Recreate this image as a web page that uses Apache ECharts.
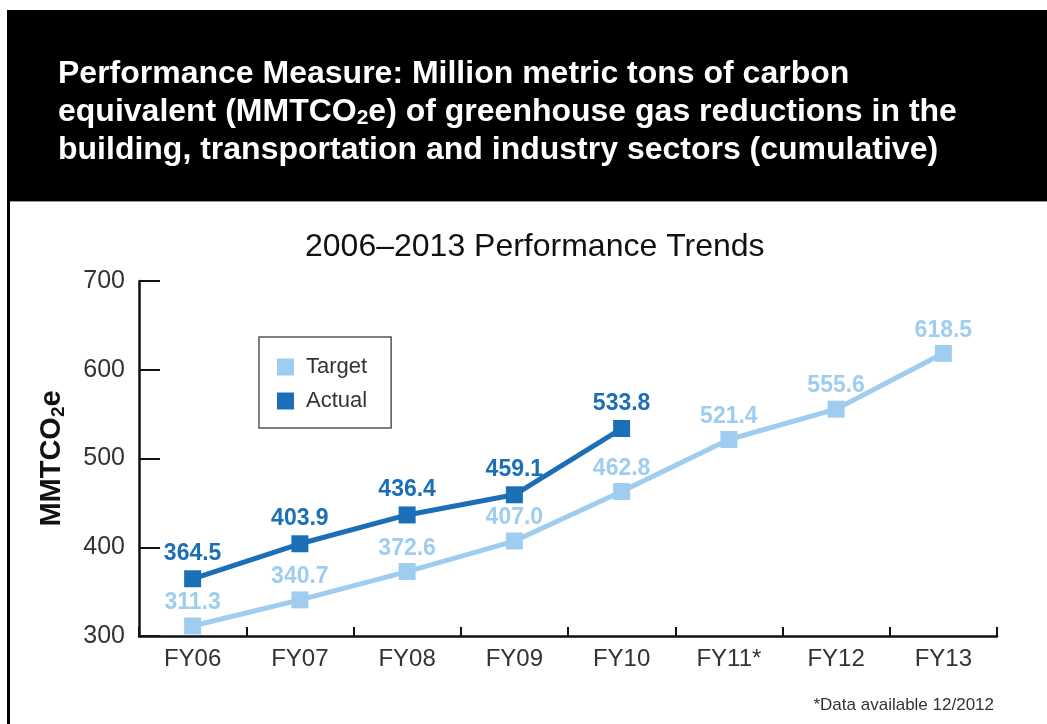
<!DOCTYPE html>
<html>
<head>
<meta charset="utf-8">
<script src="https://cdn.jsdelivr.net/npm/echarts@6/dist/echarts.min.js"></script>
<style>
  html, body { margin: 0; padding: 0; background: #fff; }
  #chart { width: 1047px; height: 724px; }
</style>
</head>
<body>
<div id="chart"></div>
<script>
// data
var categories = ['FY06', 'FY07', 'FY08', 'FY09', 'FY10', 'FY11*', 'FY12', 'FY13'];
var targetValues = [311.3, 340.7, 372.6, 407.0, 462.8, 521.4, 555.6, 618.5];
var actualValues = [364.5, 403.9, 436.4, 459.1, 533.8, null, null, null];
var yTicks = [300, 400, 500, 600, 700];

var targetColor = '#9fcdef';
var actualColor = '#1a6fb6';
var font = '"Liberation Sans", Arial, Helvetica, sans-serif';

var chart = echarts.init(document.getElementById('chart'));

var option = {
  backgroundColor: '#ffffff',
  animation: false,
  textStyle: { fontFamily: font },
  graphic: [
    // black header band
    { type: 'rect', shape: { x: 7, y: 10, width: 1040, height: 191 }, style: { fill: '#000' }, z: 0 },
    { type: 'line', shape: { x1: 7, y1: 201.5, x2: 1047, y2: 201.5 }, style: { stroke: '#999', lineWidth: 1 }, z: 0 },
    // left frame line
    { type: 'rect', shape: { x: 7, y: 200, width: 3, height: 524 }, style: { fill: '#000' }, z: 0 }
  ],
  title: [
    {
      text: 'Performance Measure: Million metric tons of carbon\nequivalent (MMTCO{s|2}e) of greenhouse gas reductions in the\nbuilding, transportation and industry sectors (cumulative)',
      left: 53,
      top: 50,
      textStyle: {
        color: '#fff',
        fontFamily: font,
        fontWeight: 'bold',
        fontSize: 32,
        lineHeight: 38,
        rich: {
          s: { color: '#fff', fontFamily: font, fontWeight: 'bold', fontSize: 21, lineHeight: 38, padding: [13, 0, 0, 0] }
        }
      }
    },
    {
      text: '2006–2013 Performance Trends',
      left: 300,
      top: 226,
      textStyle: { color: '#111', fontFamily: font, fontWeight: 'normal', fontSize: 32 }
    },
    {
      text: '*Data available 12/2012',
      right: 48,
      top: 692,
      textStyle: { color: '#333', fontFamily: font, fontWeight: 'normal', fontSize: 17 }
    }
  ],
  legend: {
    orient: 'vertical',
    left: 259,
    top: 337,
    padding: [19, 24, 16, 18],
    itemGap: 12,
    itemWidth: 17,
    itemHeight: 17,
    icon: 'rect',
    borderColor: '#555',
    borderWidth: 1.5,
    data: ['Target', 'Actual'],
    textStyle: { color: '#333', fontFamily: font, fontSize: 22, padding: [0, 0, 0, 7] }
  },
  grid: { left: 139, right: 50, top: 281, bottom: 88 },
  xAxis: {
    type: 'category',
    data: categories,
    boundaryGap: true,
    axisLine: { lineStyle: { color: '#111', width: 2.5 } },
    axisTick: { show: true, inside: true, length: 9, interval: 0, lineStyle: { color: '#111', width: 2 } },
    axisLabel: { color: '#333', fontFamily: font, fontSize: 24, margin: 11, interval: 0 },
    splitLine: { show: false }
  },
  yAxis: {
    type: 'value',
    min: yTicks[0],
    max: yTicks[yTicks.length - 1],
    interval: 100,
    name: 'MMTCO{s|2}e',
    nameLocation: 'middle',
    nameGap: 71,
    nameTextStyle: {
      color: '#111',
      fontFamily: font,
      fontWeight: 'bold',
      fontSize: 29,
      rich: {
        s: { color: '#111', fontFamily: font, fontWeight: 'bold', fontSize: 19, padding: [13, 0, 0, 0] }
      }
    },
    axisLine: { show: true, lineStyle: { color: '#111', width: 2.5 } },
    axisTick: { show: true, inside: true, length: 21, lineStyle: { color: '#111', width: 2 } },
    axisLabel: { color: '#333', fontFamily: font, fontSize: 25, margin: 14 },
    splitLine: { show: false }
  },
  series: [
    {
      name: 'Target',
      type: 'line',
      data: targetValues,
      color: targetColor,
      symbol: 'rect',
      symbolSize: 17,
      lineStyle: { width: 5, color: targetColor },
      itemStyle: { color: targetColor },
      label: {
        show: true,
        position: 'top',
        distance: 3,
        color: targetColor,
        fontFamily: font,
        fontWeight: 'bold',
        fontSize: 23,
        formatter: function (p) { return p.value.toFixed(1); }
      },
      z: 2
    },
    {
      name: 'Actual',
      type: 'line',
      data: actualValues,
      color: actualColor,
      symbol: 'rect',
      symbolSize: 17,
      lineStyle: { width: 5, color: actualColor },
      itemStyle: { color: actualColor },
      label: {
        show: true,
        position: 'top',
        distance: 5,
        color: actualColor,
        fontFamily: font,
        fontWeight: 'bold',
        fontSize: 23,
        formatter: function (p) { return p.value.toFixed(1); }
      },
      z: 3
    }
  ]
};

chart.setOption(option);
</script>
</body>
</html>
